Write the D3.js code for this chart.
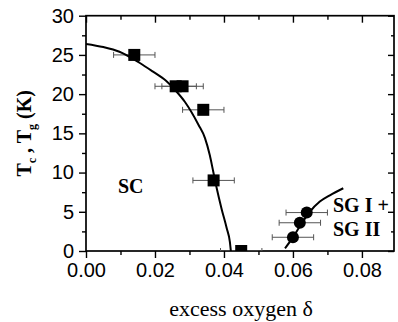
<!DOCTYPE html>
<html>
<head>
<meta charset="utf-8">
<script src="https://cdn.jsdelivr.net/npm/d3@7"></script>
<style>
  body { margin: 0; background: #fff; }
  svg { display: block; }
</style>
</head>
<body>
<div id="chart"></div>
<script>
// data
var scX   = [0.014, 0.026, 0.028, 0.034, 0.037, 0.045];
var scT   = [25, 21, 21, 18, 9, 0];
var scErr = [0.006, 0.006, 0.006, 0.006, 0.006, 0.006];

var sgX   = [0.060, 0.062, 0.064];
var sgT   = [1.75, 3.6, 4.9];
var sgErr = [0.006, 0.006, 0.006];

// fitted lines
var scFitX = [0, 0.005, 0.0097, 0.0155, 0.0193, 0.0232, 0.0261, 0.0287, 0.0326, 0.0345, 0.0359, 0.0369, 0.0379, 0.0393, 0.0408, 0.0417, 0.0420];
var scFitT = [26.4, 26.0, 25.4, 24.0, 22.9, 21.7, 20.4, 19.0, 16.1, 14.4, 12.2, 10.1, 8.0, 5.4, 2.9, 1.2, 0];
var sgFitX = [0.0577, 0.0601, 0.0625, 0.0649, 0.0678, 0.0707, 0.0746];
var sgFitT = [0.34, 1.8, 3.5, 5.0, 6.3, 7.1, 8.0];

var xMajor = [0, 0.02, 0.04, 0.06, 0.08];
var xMinor = [0.01, 0.03, 0.05, 0.07];
var yMajor = [0, 5, 10, 15, 20, 25, 30];
var yMinor = [2.5, 7.5, 12.5, 17.5, 22.5, 27.5];

var W = 398, H = 322;
var pL = 86, pR = 394, pT = 15.7, pB = 251;

var svg = d3.select("#chart")
  .append("svg")
    .attr("width", W)
    .attr("height", H);

var x = d3.scaleLinear().domain([0, 0.0893]).range([pL, pR]);
var y = d3.scaleLinear().domain([0, 30]).range([pB, pT]);

svg.append("clipPath").attr("id", "plot")
  .append("rect")
    .attr("x", pL).attr("y", pT)
    .attr("width", pR - pL).attr("height", pB - pT);

var tickFont = "'Liberation Sans', Arial, sans-serif";

// axes
function styleAxis(g) {
  g.select(".domain").remove();
  g.selectAll(".tick line").attr("stroke", "#000").attr("stroke-width", 1.4);
  g.selectAll("text").attr("font-family", tickFont).attr("font-size", 20).attr("fill", "#000");
}

svg.append("g")
  .attr("transform", "translate(0," + pB + ")")
  .call(d3.axisBottom(x).tickValues(xMajor).tickSize(7).tickPadding(5)
        .tickFormat(d3.format(".2f")))
  .call(styleAxis);
svg.append("g")
  .attr("transform", "translate(0," + pB + ")")
  .call(d3.axisBottom(x).tickValues(xMinor).tickSize(4).tickFormat(""))
  .call(styleAxis);

svg.append("g")
  .attr("transform", "translate(0," + pT + ")")
  .call(d3.axisBottom(x).tickValues(xMajor).tickSize(7).tickFormat(""))
  .call(styleAxis);
svg.append("g")
  .attr("transform", "translate(0," + pT + ")")
  .call(d3.axisBottom(x).tickValues(xMinor).tickSize(4).tickFormat(""))
  .call(styleAxis);

svg.append("g")
  .attr("transform", "translate(" + pL + ",0)")
  .call(d3.axisLeft(y).tickValues(yMajor).tickSize(7).tickPadding(5))
  .call(styleAxis);
svg.append("g")
  .attr("transform", "translate(" + pL + ",0)")
  .call(d3.axisLeft(y).tickValues(yMinor).tickSize(4).tickFormat(""))
  .call(styleAxis);

svg.append("g")
  .attr("transform", "translate(" + pR + ",0)")
  .call(d3.axisLeft(y).tickValues(yMajor).tickSize(6).tickFormat(""))
  .call(styleAxis);
svg.append("g")
  .attr("transform", "translate(" + pR + ",0)")
  .call(d3.axisLeft(y).tickValues(yMinor).tickSize(3).tickFormat(""))
  .call(styleAxis);

// frame
svg.append("rect")
  .attr("x", pL).attr("y", pT)
  .attr("width", pR - pL).attr("height", pB - pT)
  .attr("fill", "none")
  .attr("stroke", "#000")
  .attr("stroke-width", 1.7);

var plot = svg.append("g").attr("clip-path", "url(#plot)");

// error bars
var sc = scX.map(function (d, i) { return {x: d, t: scT[i], e: scErr[i]}; });
var sg = sgX.map(function (d, i) { return {x: d, t: sgT[i], e: sgErr[i]}; });
var all = sc.concat(sg);

var eb = plot.append("g")
  .attr("stroke", "#555")
  .attr("stroke-width", 1);
eb.selectAll("line.h").data(all).enter().append("line")
  .attr("x1", function (d) { return x(d.x - d.e); })
  .attr("x2", function (d) { return x(d.x + d.e); })
  .attr("y1", function (d) { return y(d.t); })
  .attr("y2", function (d) { return y(d.t); });
eb.selectAll("line.l").data(all).enter().append("line")
  .attr("x1", function (d) { return x(d.x - d.e); })
  .attr("x2", function (d) { return x(d.x - d.e); })
  .attr("y1", function (d) { return y(d.t) - 3; })
  .attr("y2", function (d) { return y(d.t) + 3; });
eb.selectAll("line.r").data(all).enter().append("line")
  .attr("x1", function (d) { return x(d.x + d.e); })
  .attr("x2", function (d) { return x(d.x + d.e); })
  .attr("y1", function (d) { return y(d.t) - 3; })
  .attr("y2", function (d) { return y(d.t) + 3; });

// fit lines
var line = d3.line()
  .x(function (d) { return x(d[0]); })
  .y(function (d) { return y(d[1]); })
  .curve(d3.curveMonotoneX);

plot.append("path")
  .datum(d3.zip(scFitX, scFitT))
  .attr("d", line)
  .attr("fill", "none")
  .attr("stroke", "#000")
  .attr("stroke-width", 2);
plot.append("path")
  .datum(d3.zip(sgFitX, sgFitT))
  .attr("d", line)
  .attr("fill", "none")
  .attr("stroke", "#000")
  .attr("stroke-width", 2);

// markers
var sq = 12;
plot.selectAll("rect.sq").data(sc).enter().append("rect")
  .attr("x", function (d) { return x(d.x) - sq / 2; })
  .attr("y", function (d) { return y(d.t) - sq / 2; })
  .attr("width", sq).attr("height", sq)
  .attr("fill", "#000");

plot.selectAll("circle").data(sg).enter().append("circle")
  .attr("cx", function (d) { return x(d.x); })
  .attr("cy", function (d) { return y(d.t); })
  .attr("r", 6)
  .attr("fill", "#000");

// labels
var serif = "'Liberation Serif', 'Times New Roman', serif";

svg.append("text")
  .attr("x", 118).attr("y", 192.5)
  .attr("font-family", serif).attr("font-weight", "bold").attr("font-size", 20)
  .text("SC");
svg.append("text")
  .attr("x", 333).attr("y", 211.7)
  .attr("font-family", serif).attr("font-weight", "bold").attr("font-size", 20)
  .text("SG I +");
svg.append("text")
  .attr("x", 333).attr("y", 235.7)
  .attr("font-family", serif).attr("font-weight", "bold").attr("font-size", 20)
  .text("SG II");

svg.append("text")
  .attr("x", 241).attr("y", 315.5)
  .attr("text-anchor", "middle")
  .attr("font-family", serif).attr("font-size", 22)
  .text("excess oxygen δ");

var yl = svg.append("text")
  .attr("transform", "translate(31," + ((pT + pB) / 2) + ") rotate(-90)")
  .attr("text-anchor", "middle")
  .attr("font-family", serif).attr("font-weight", "bold").attr("font-size", 20);
yl.append("tspan").text("T");
yl.append("tspan").attr("font-size", 12).attr("dy", 5).text("c");
yl.append("tspan").attr("dy", -5).text(" , T");
yl.append("tspan").attr("font-size", 12).attr("dy", 5).text("g");
yl.append("tspan").attr("dy", -5).text(" (K)");
</script>
</body>
</html>
